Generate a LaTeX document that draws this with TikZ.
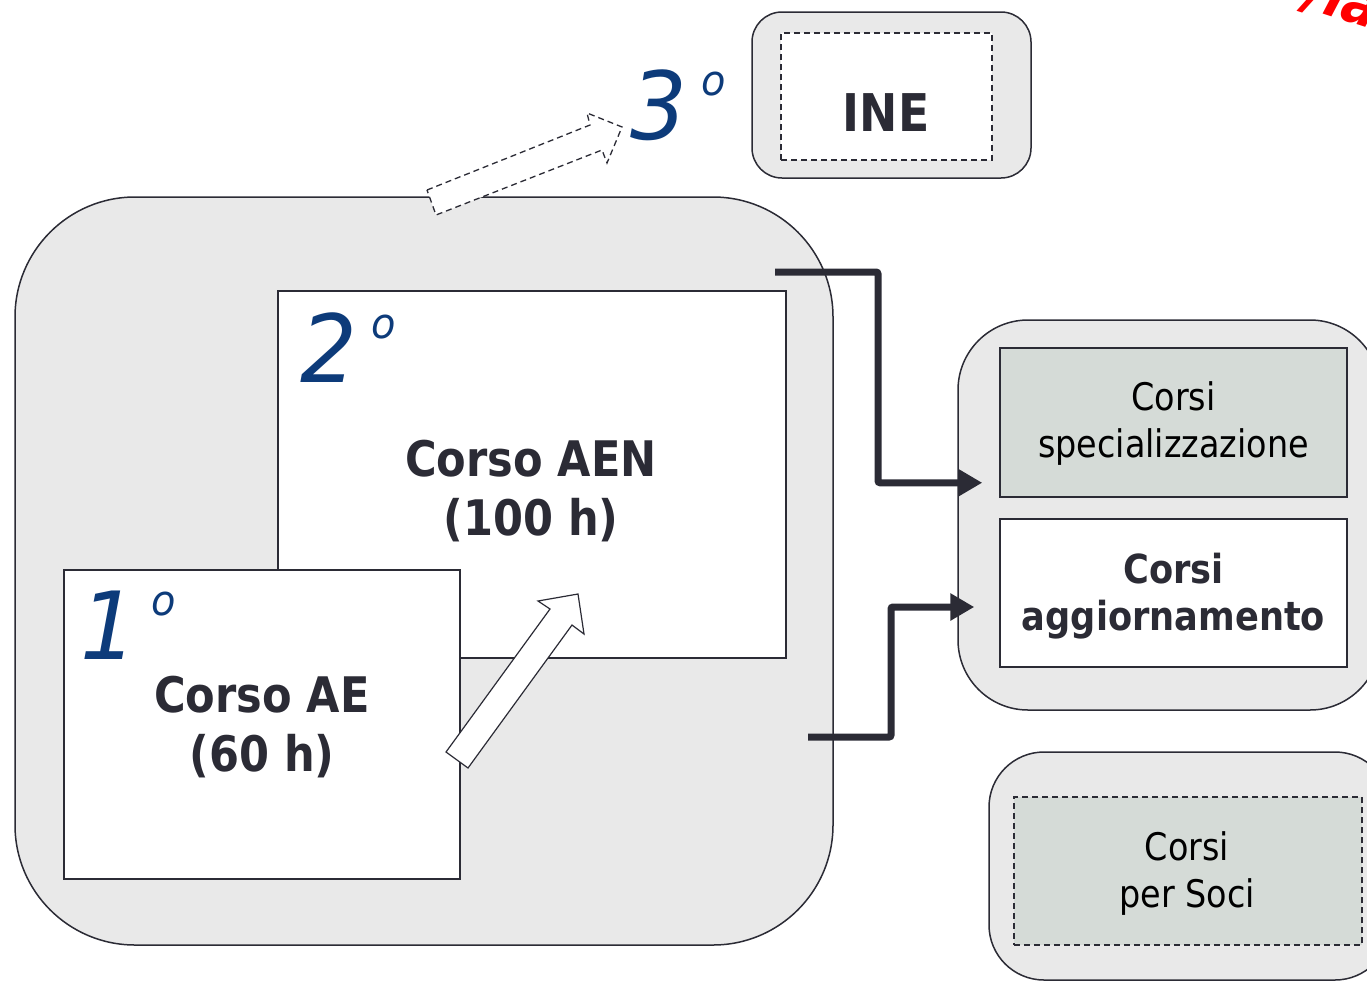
\documentclass[tikz,border=0pt]{standalone}
\usepackage{fontspec}
\setmainfont{DejaVu Sans}[FakeStretch=0.88]
\newfontfamily\numfont{DejaVu Sans Oblique}[FakeStretch=0.95]
\usetikzlibrary{arrows.meta,calc}
\definecolor{boxgray}{RGB}{233,233,233}
\definecolor{sage}{RGB}{213,219,215}
\definecolor{ink}{RGB}{43,43,53}
\definecolor{numblue}{RGB}{13,59,122}
\tikzset{
  outerbox/.style={draw=ink, line width=1.5pt, fill=boxgray, inner sep=0pt},
  plainbox/.style={draw=ink, line width=1.5pt, fill=white, inner sep=0pt},
  sagebox/.style={draw=ink, line width=1.5pt, fill=sage, inner sep=0pt},
  dashbox/.style={draw=ink, line width=1.5pt, dash pattern=on 6pt off 4pt, inner sep=0pt},
  boldtxt/.style={text=ink, font=\bfseries\fontsize{49}{59}\selectfont, align=center},
  smalltxt/.style={text=black, font=\fontsize{38}{47}\selectfont, align=center},
  smallbold/.style={text=ink, font=\bfseries\fontsize{40}{47}\selectfont, align=center},
  ordnum/.style={text=numblue, font=\numfont\fontsize{94}{94}\selectfont, inner sep=0pt, anchor=base west},
  conn/.style={draw=ink, line width=7pt, rounded corners=2pt, -{Triangle[length=24pt,width=26pt]}},
  blockarrow/.style={draw=ink, line width=1.2pt, fill=white, line join=miter}
}
\newcommand{\ordinal}[1]{#1\hspace{14pt}\raisebox{44pt}{\fontsize{42}{42}\selectfont o}}
\begin{document}
\begin{tikzpicture}[x=1pt,y=-1pt]
\useasboundingbox (0,0) rectangle (1367,980);
\begin{scope}
\clip (0,0) rectangle (1367,980);
% big container
\node[outerbox, rounded corners=120pt, minimum width=818pt, minimum height=748pt] (big) at (424,571) {};
% AEN box
\node[plainbox, minimum width=508pt, minimum height=367pt] (aen) at (532,474.5) {};
\node[boldtxt] (aentxt) at (531,491) {Corso AEN\\(100 h)};
\node[ordnum] (two) at (300,382) {\ordinal{2}};
% AE box
\node[plainbox, minimum width=396pt, minimum height=309pt] (ae) at (262,724.5) {};
\node[boldtxt] (aetxt) at (262,727) {Corso AE\\(60 h)};
\node[ordnum] (one) at (80,659) {\ordinal{1}};
% hollow arrow 1 -> 2
\draw[blockarrow] (446,752) -- (550,609) -- (538,601) -- (578,594) -- (584,634) -- (572,625) -- (468,768) -- cycle;
% INE
\node[outerbox, rounded corners=30pt, minimum width=279pt, minimum height=166pt] (ineo) at (891.5,95) {};
\node[dashbox, fill=white, minimum width=211pt, minimum height=127pt] (inei) at (886.5,96.5) {};
\node[text=ink, font=\bfseries\fontsize{52}{52}\selectfont] (inetxt) at (886,113) {INE};
% dashed hollow arrow towards 3
\draw[blockarrow, dash pattern=on 6pt off 4pt, line width=1.3pt] (427,190) -- (590,125) -- (587,113) -- (622,127) -- (607,163) -- (602,150) -- (436,215) -- cycle;
\node[ordnum] (three) at (630,139) {\ordinal{3}};
% right group
\node[outerbox, rounded corners=70pt, minimum width=422pt, minimum height=390pt] (grp) at (1169,515) {};
\node[sagebox, minimum width=347pt, minimum height=149pt] (spec) at (1173.5,422.5) {};
\node[smalltxt] (spectxt) at (1173.5,424) {Corsi\\specializzazione};
\node[plainbox, minimum width=347pt, minimum height=148pt] (agg) at (1173.5,593) {};
\node[smallbold] (aggtxt) at (1173.5,596) {Corsi\\aggiornamento};
% soci group
\node[outerbox, rounded corners=55pt, minimum width=401pt, minimum height=228pt] (soco) at (1189.5,866) {};
\node[dashbox, fill=sage, minimum width=348pt, minimum height=148pt] (soci) at (1188,871) {};
\node[smalltxt] (socitxt) at (1187,874) {Corsi\\per Soci};
% connectors
\coordinate (s1) at (775,272);
\coordinate (s2) at (808,737);
\draw[conn] (s1) -- ++(103,0) |- ([shift={(-17pt,15pt)}]spec.south west);
\draw[conn] (s2) -- ++(83,0) |- ([shift={(-25pt,-14pt)}]agg.west);
% red partial text at corner
\node[text=red, font=\bfseries\itshape\fontsize{60}{60}\selectfont, rotate=-18, anchor=base west] (red) at (1300,6) {/la};
\end{scope}
\end{tikzpicture}
\end{document}
